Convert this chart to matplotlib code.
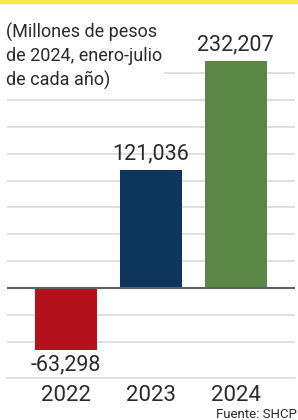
import matplotlib
matplotlib.use('Agg')
import matplotlib.pyplot as plt
from matplotlib import font_manager

# Datos (millones de pesos de 2024, enero-julio)
anios = ['2022', '2023', '2024']
valores = [-63298, 121036, 232207]
etiquetas = ['-63,298', '121,036', '232,207']
colores = ['#b3111b', '#0e355c', '#5a8646']

disponibles = {f.name for f in font_manager.fontManager.ttflist}
fuente = 'Liberation Sans Narrow' if 'Liberation Sans Narrow' in disponibles else 'Roboto'
plt.rcParams['font.family'] = [fuente, 'DejaVu Sans']

W, H = 298, 420
fig = plt.figure(figsize=(W / 100, H / 100), dpi=100)

def px(x, y):
    return x / W, 1 - y / H

# franja amarilla superior
fig.patches.append(plt.Rectangle((0, 1 - 3 / H), 1, 3 / H, transform=fig.transFigure,
                                 color='#f7ea4a', zorder=0))

# ejes: x de 7 a 295 px, y de 40 a 378 px; cero en 288 px
upp = 1024.0
ax = fig.add_axes([7 / W, 1 - 378 / H, 288 / W, 338 / H])
ax.set_ylim(-(378 - 288) * upp, (288 - 40) * upp)
ax.set_xlim(-0.694, 2.70)

paso = 27500
for k in list(range(-2, 0)) + list(range(1, 9)):
    ax.axhline(k * paso, color='#dcdcdc', lw=1.2, zorder=1)

ax.bar(range(3), valores, width=0.73, color=colores, zorder=2)
ax.axhline(0, color='#5f5f5f', lw=1.5, zorder=3)

for i, (v, t) in enumerate(zip(valores, etiquetas)):
    if v >= 0:
        ax.annotate(t, (i, v), xytext=(0, 4), textcoords='offset points',
                    ha='center', va='bottom', fontsize=15.5, color='#2b2b2b')
    else:
        ax.annotate(t, (i, v), xytext=(0, -3), textcoords='offset points',
                    ha='center', va='top', fontsize=15.5, color='#2b2b2b')
    ax.annotate(anios[i], (i, 0), xycoords=('data', 'axes fraction'),
                xytext=(0, -5), textcoords='offset points',
                ha='center', va='top', fontsize=16, color='#2b2b2b')

for s in ['top', 'left', 'right']:
    ax.spines[s].set_visible(False)
ax.spines['bottom'].set_color('#dcdcdc')
ax.spines['bottom'].set_linewidth(1.2)
ax.set_xticks([])
ax.set_yticks([])

fig.text(*px(6, 23), '(Millones de pesos\nde 2024, enero-julio\nde cada año)',
         ha='left', va='top', fontsize=13, color='#2b2b2b', linespacing=1.38,
         bbox=dict(facecolor='white', edgecolor='none', pad=1), zorder=5)

fig.text(*px(297, 414), 'Fuente: SHCP', ha='right', va='center', fontsize=9.5,
         color='#2b2b2b')

fig.savefig('out.png', dpi=100)
